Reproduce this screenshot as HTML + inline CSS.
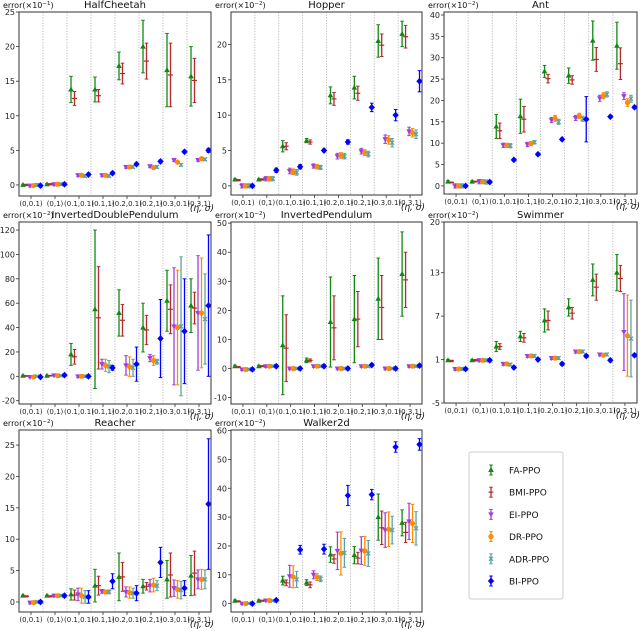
<!DOCTYPE html>
<html><head><meta charset="utf-8"><style>
html,body{margin:0;padding:0;background:#fff;}
svg{display:block;font-family:"DejaVu Sans","Liberation Sans",sans-serif;}
</style></head><body>
<svg id="chart" width="640" height="631" viewBox="0 0 640 631" xmlns="http://www.w3.org/2000/svg">
<g id="panels"></g>
<g id="legend">
<rect x="469" y="452" width="94" height="147" rx="2" fill="#fff" stroke="#ccc"/>
</g>
</svg>
<script>
const categories = ["(0,0.1)","(0,1)","(0.1,0.1)","(0.1,1)","(0.2,0.1)","(0.2,1)","(0.3,0.1)","(0.3,1)"];
const seriesNames = ["FA-PPO","BMI-PPO","EI-PPO","DR-PPO","ADR-PPO","BI-PPO"];

const hcMean = [[0,0.1,13.8,13.8,17.2,20,16.6,15.7],[0,0.1,12.5,12.9,16.1,17.9,15.9,15.1],[-0.1,0.1,1.4,1.4,2.6,2.7,3.6,3.6],[-0.1,0.1,1.4,1.4,2.6,2.5,3.3,3.8],[0,0.1,1.3,1.3,2.6,2.6,2.9,3.7],[-0.1,0.1,1.5,1.7,3.0,3.4,4.8,5.0]];
const hcErr = [[0.1,0.1,1.9,1.8,2,3.8,5.3,4.3],[0.1,0.1,1,0.9,1.5,2.6,4.6,3.2],[0.2,0.2,0.2,0.2,0.2,0.2,0.2,0.2],[0.2,0.2,0.2,0.2,0.2,0.2,0.2,0.2],[0.2,0.2,0.2,0.2,0.2,0.2,0.2,0.2],[0.2,0.2,0.2,0.2,0.2,0.2,0.2,0.3]];

const hopMean = [[0.9,0.9,5.6,6.4,12.8,13.9,20.5,21.5],[0.8,0.9,5.6,6.2,12.3,13.1,19.9,21.1],[0,1,2.1,2.8,4.2,4.9,6.6,7.7],[0,1,2,2.7,4.3,4.7,6.5,7.5],[0,1,1.9,2.6,4.2,4.5,6.1,7.3],[0,2.2,2.7,5,6.2,11.1,10,14.8]];
const hopErr = [[0.1,0.1,0.8,0.3,1.2,1.6,2.3,1.8],[0.1,0.1,0.5,0.3,0.9,1,1.6,1.6],[0.3,0.3,0.4,0.3,0.4,0.4,0.6,0.6],[0.3,0.3,0.4,0.3,0.4,0.4,0.6,0.6],[0.3,0.3,0.4,0.3,0.4,0.4,0.6,0.6],[0.2,0.3,0.3,0.2,0.3,0.6,0.8,1.5]];

const antMean = [[1,1,13.9,16.3,26.8,25.8,34,32.8],[0.8,1,12.9,15.6,25.1,24.8,29.6,28.6],[0,1,9.5,9.7,15.4,15.9,20.5,21],[0,1,9.5,9.9,15.8,16.4,21.1,19.5],[0,0.9,9.4,10.2,15,15.7,21.4,20.4],[0,0.9,6.1,7.4,10.9,15.6,16.2,18.4]];
const antErr = [[0.2,0.2,2.8,4,1.4,1.8,4.6,5.5],[0.1,0.1,1.8,3,1,1,2.8,3.7],[0.5,0.5,0.5,0.5,0.6,0.6,0.7,0.8],[0.5,0.5,0.5,0.5,0.7,0.6,0.7,0.9],[0.5,0.5,0.5,0.4,0.6,0.6,0.6,0.8],[0.3,0.3,0.3,0.3,0.3,5.3,0.3,0.3]];

const idpMean = [[0.5,0.5,18,55,52,40,62,58],[0.3,0.5,16,48,46,38,55,56],[-0.5,0.8,0,10,9,15,41,52],[-0.5,0.5,0,9,8,13,40,52],[0,0.5,0,8,7,12,41,47],[-0.5,1,0,7,10,31,37,58]];
const idpErr = [[0.5,0.5,9,65,19,20,25,22],[0.3,0.3,6,42,13,12,20,13],[0.5,0.5,1,4,8,3,48,47],[0.5,0.5,1,5,8,4,47,45],[0.5,0.5,1,5,7,2,57,37],[0.7,0.7,1,2,14,32,43,58]];

const ipMean = [[0.8,0.8,8,2.8,16,17,24,32.5],[0.5,0.8,7,2.8,14,17,21,30.5],[-0.3,0.8,0,0.8,0,0.8,0,0.8],[-0.3,0.8,0,0.8,0,0.8,0,0.8],[-0.3,0.8,0,0.8,0,0.8,0,0.8],[-0.3,0.8,0,0.8,0,1.2,0,1]];
const ipErr = [[0.3,0.3,17,0.8,15.5,15,14,14.5],[0.2,0.2,11.5,0.5,11,9.5,11,9.5],[0.4,0.4,0.4,0.4,0.4,0.4,0.4,0.4],[0.4,0.4,0.4,0.4,0.4,0.4,0.4,0.4],[0.4,0.4,0.4,0.4,0.4,0.4,0.4,0.4],[0.5,0.5,0.5,0.5,0.5,0.5,0.5,0.5]];

const swMean = [[0.9,0.9,2.8,4.2,6.4,8.2,12,13],[0.8,0.9,2.8,4,6.4,7.4,11,12.2],[-0.3,0.9,0.4,1.5,1.2,2.1,1.7,4.8],[-0.3,0.9,0.4,1.5,1.2,2.1,1.6,4.3],[-0.3,0.9,0.3,1.5,1.2,2.1,1.7,3.9],[-0.3,0.9,-0.1,1,0.4,1.5,0.9,1.6]];
const swErr = [[0.1,0.1,0.7,0.7,1.6,1.2,2.2,2.5],[0.1,0.1,0.4,0.6,1.3,0.8,1.8,1.8],[0.2,0.2,0.2,0.2,0.2,0.2,0.2,5.3],[0.2,0.2,0.2,0.2,0.2,0.2,0.2,5.6],[0.2,0.2,0.2,0.2,0.2,0.2,0.2,5.3],[0.2,0.2,0.2,0.2,0.2,0.2,0.2,0.2]];

const reMean = [[1,1,1.2,2.6,4,2.5,3.6,4.2],[0.9,0.9,1.1,2.6,4,2.5,4.3,4.6],[-0.1,1,1.2,1.7,1.6,2.6,2.2,3.6],[-0.1,1,1,1.6,1.5,2.7,2,3.6],[0,1,0.8,1.6,1.4,2.6,1.9,3.6],[0,1,0.8,3.3,1.4,6.3,2.2,15.6]];
const reErr = [[0.1,0.1,0.9,2.6,3.8,1.1,3,3.2],[0.1,0.1,0.8,1.5,2.3,0.6,3.5,3.5],[0.2,0.2,1,0.3,0.8,1,1.3,1.5],[0.2,0.2,1.2,0.3,0.9,1.1,1.4,1.6],[0.2,0.2,1,0.3,0.8,0.8,1.4,1.5],[0.2,0.2,1,1.2,1.2,2.4,1.2,10.4]];

const wkMean = [[1,1,8,7.3,17,16.8,30,28],[0.8,1,7.2,6.5,15.5,15.8,26.3,24.7],[0,1.1,9.5,10,18.3,18.4,25.5,28.5],[0,1.1,9.3,9.2,17.4,18.3,25.8,27.8],[0.1,1,8.4,8.6,17.6,17.4,25.5,26.1],[0,1.2,18.7,18.9,37.5,37.8,54.3,55.2]];
const wkErr = [[0.3,0.3,1.5,1,2.7,3,8,4.5],[0.2,0.2,1,1,1.5,2,5.8,3.5],[0.3,0.3,3.8,1.4,6.5,4.8,6,6.3],[0.3,0.3,3.8,1.2,7.5,5,6,6.6],[0.3,0.3,2.8,1,5,4.5,4.8,5.8],[0.3,0.3,1.5,1.7,3.5,1.8,1.8,2]];

const hcTicks=[0,5,10,15,20,25], hopTicks=[0,5,10,15,20], antTicks=[0,5,10,15,20,25,30,35,40];
const idpTicks=[-20,0,20,40,60,80,100,120], ipTicks=[-10,0,10,20,30,40,50], swTicks=[-5,1,7,13,20];
const reTicks=[0,5,10,15,20,25], wkTicks=[0,10,20,30,40,50,60];

const panels = [
 {name:"HalfCheetah",exp:"−1",L:19,R:211,T:12,B:196,ymin:-1.6,ymax:25,ticks:hcTicks,mean:hcMean,err:hcErr},
 {name:"Hopper",exp:"−2",L:231,R:422,T:12,B:195,ymin:-1.3,ymax:24.6,ticks:hopTicks,mean:hopMean,err:hopErr},
 {name:"Ant",exp:"−2",L:444,R:637,T:12,B:194,ymin:-1.9,ymax:40.7,ticks:antTicks,mean:antMean,err:antErr},
 {name:"InvertedDoublePendulum",exp:"−2",L:19,R:211,T:222,B:404,ymin:-22.7,ymax:126.6,ticks:idpTicks,mean:idpMean,err:idpErr},
 {name:"InvertedPendulum",exp:"−2",L:231,R:422,T:222,B:404,ymin:-12.2,ymax:50.4,ticks:ipTicks,mean:ipMean,err:ipErr},
 {name:"Swimmer",exp:"−2",L:444,R:637,T:222,B:403,ymin:-5,ymax:20,ticks:swTicks,mean:swMean,err:swErr},
 {name:"Reacher",exp:"−2",L:19,R:211,T:430,B:612,ymin:-1.6,ymax:27.4,ticks:reTicks,mean:reMean,err:reErr},
 {name:"Walker2d",exp:"−2",L:231,R:422,T:430,B:612,ymin:-2.9,ymax:60.2,ticks:wkTicks,mean:wkMean,err:wkErr}
];
const colors=["#118811","#b22b2b","#a040d8","#ff8c00","#5fa0a0","#0000ff"];
const markers=["tri","bar","tridown","circle","x","diamond"];
const NS="http://www.w3.org/2000/svg";
function mk(tag,attrs,parent){const e=document.createElementNS(NS,tag);for(const k in attrs)e.setAttribute(k,attrs[k]);parent.appendChild(e);return e;}
const root=document.getElementById("panels");

panels.forEach(p=>{
  const g=mk("g",{},root);
  
  
  const yS=v=>p.B-(v-p.ymin)/(p.ymax-p.ymin)*(p.B-p.T);
  const gw=(p.R-p.L)/categories.length;
  const xS=(ci,si)=>p.L+gw*ci+gw*(4+3.5*si)/24;
  for(let i=1;i<categories.length;i++){
    const l=mk("line",{x1:p.L+gw*i,x2:p.L+gw*i,y1:p.T,y2:p.B,stroke:"#aaa","stroke-width":0.8,"stroke-dasharray":"1.2,1.5"},g);
    
    
  }
  p.ticks.forEach(t=>{
    const y=yS(t);
    mk("line",{x1:p.L-3,x2:p.L,y1:y,y2:y,stroke:"#333","stroke-width":0.8},g);
    const tx=mk("text",{x:p.L-4,y:y+3,"font-size":8,"text-anchor":"end",fill:"#222"},g);
    tx.textContent=t;
    
    
  });
  categories.forEach((c,i)=>{
    const x=p.L+gw*(i+0.5);
    mk("line",{x1:x,x2:x,y1:p.B,y2:p.B+3,stroke:"#333","stroke-width":0.8},g);
    const tx=mk("text",{x:x,y:p.B+10,"font-size":7,"text-anchor":"middle",fill:"#222"},g);
    tx.textContent=c;
    
    
  });
  p.mean.forEach((arr,si)=>{
    const sg=mk("g",{},g);
    
    
    arr.forEach((v,ci)=>{
      const x=xS(ci,si), e=p.err[si][ci];
      const y=yS(v), y1=yS(v+e), y2=yS(v-e);
      const c=colors[si];
      mk("line",{x1:x,x2:x,y1:y1,y2:y2,stroke:c,"stroke-width":1.3},sg);
      mk("line",{x1:x-1.8,x2:x+1.8,y1:y1,y2:y1,stroke:c,"stroke-width":1},sg);
      mk("line",{x1:x-1.8,x2:x+1.8,y1:y2,y2:y2,stroke:c,"stroke-width":1},sg);
      drawMarker(sg,markers[si],x,y,c);
    });
  });
  const fr=mk("rect",{x:p.L,y:p.T,width:p.R-p.L,height:p.B-p.T,fill:"none",stroke:"#333","stroke-width":1},g);
  
  
  const ti=mk("text",{x:(p.L+p.R)/2,y:p.T-4,"font-size":10,"text-anchor":"middle",fill:"#111"},g);
  ti.textContent=p.name;
  
  
  const yl=mk("text",{x:p.L-16,y:p.T-4,"font-size":8,fill:"#111"},g);
  yl.innerHTML='error(×10<tspan dy="-3" font-size="5.5">'+p.exp+'</tspan><tspan dy="3">)</tspan>';
  
  
  const xl=mk("text",{x:p.R+3,y:p.B+15,"font-size":9,"text-anchor":"end","font-style":"italic",fill:"#111"},g);
  xl.textContent="(η, σ)";
  
  
});

function drawMarker(g,m,x,y,c){
  let e;
  if(m==="tri") e=mk("polygon",{points:`${x},${y-3} ${x-2.8},${y+2} ${x+2.8},${y+2}`,fill:c},g);
  else if(m==="tridown") e=mk("polygon",{points:`${x},${y+3} ${x-2.8},${y-2} ${x+2.8},${y-2}`,fill:c},g);
  else if(m==="circle") e=mk("circle",{cx:x,cy:y,r:2.6,fill:c},g);
  else if(m==="bar") e=mk("line",{x1:x-2.5,x2:x+2.5,y1:y,y2:y,stroke:c,"stroke-width":1.2},g);
  else if(m==="x") e=mk("path",{d:`M${x-2},${y-2}L${x+2},${y+2}M${x-2},${y+2}L${x+2},${y-2}`,stroke:c,"stroke-width":1.2},g);
  else e=mk("polygon",{points:`${x},${y-3.4} ${x+3.2},${y} ${x},${y+3.4} ${x-3.2},${y}`,fill:c},g);
  
  
}

const lg=document.getElementById("legend");
seriesNames.forEach((n,i)=>{
  const y=470+i*22.2, x=491, c=colors[i];
  const eg=mk("g",{},lg);
  
  
  mk("line",{x1:x,x2:x,y1:y-5,y2:y+5,stroke:c,"stroke-width":1.3},eg);
  mk("line",{x1:x-1.8,x2:x+1.8,y1:y-5,y2:y-5,stroke:c,"stroke-width":1},eg);
  mk("line",{x1:x-1.8,x2:x+1.8,y1:y+5,y2:y+5,stroke:c,"stroke-width":1},eg);
  drawMarker(eg,markers[i],x,y,c);
  const t=mk("text",{x:509,y:y+3.5,"font-size":9,fill:"#111"},eg);
  t.textContent=n;
  
  
});
</script>
</body></html>
